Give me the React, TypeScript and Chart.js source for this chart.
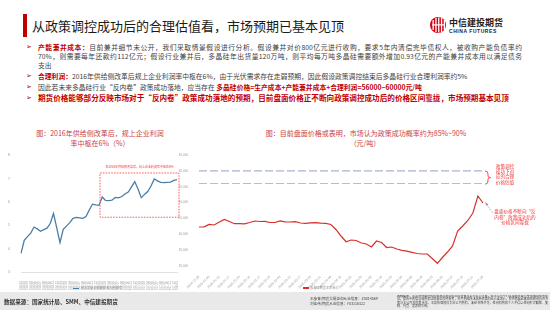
import React, { useEffect, useRef } from 'react';
import { Chart, registerables } from 'chart.js';

Chart.register(...registerables);

// ---------- Left chart data ----------
const PROFIT_LABELS = [
  '2014-01', '2014-02', '2014-03', '2014-04', '2014-05', '2014-06', '2014-07', '2014-08', '2014-09', '2014-10', '2014-11', '2014-12',
  '2015-01', '2015-02', '2015-03', '2015-04', '2015-05', '2015-06', '2015-07', '2015-08', '2015-09', '2015-10', '2015-11', '2015-12',
  '2016-01', '2016-02', '2016-03', '2016-04', '2016-05', '2016-06', '2016-07', '2016-08', '2016-09', '2016-10', '2016-11', '2016-12',
  '2017-01', '2017-02', '2017-03', '2017-04', '2017-05', '2017-06', '2017-07', '2017-08', '2017-09', '2017-10', '2017-11', '2017-12',
  '2018-01',
];
const PROFIT_MARGIN = [
  3.80, 4.36, 4.52, 4.67, 4.93, 4.85, 4.75, 4.82, 4.88, 5.08, 5.51, 4.89,
  4.26, 4.83, 4.97, 5.12, 5.30, 5.34, 5.32, 5.30, 5.38, 5.66, 5.91, 5.88,
  5.86, 6.22, 6.07, 6.06, 6.08, 6.20, 6.18, 6.24, 6.35, 6.43, 6.65, 6.88,
  6.56, 6.19, 6.33, 6.45, 6.69, 6.99, 6.91, 6.85, 6.84, 6.85, 6.86, 6.93,
  6.96,
];
const PROFIT_MIN = 3;
const PROFIT_MAX = 8;
const PROFIT_STEP = 1;
// dashed highlight box, in data units (category index / %)
const PROFIT_BOX_FROM = 24;
const PROFIT_BOX_TO = 48;
const PROFIT_BOX_TOP = 7.25;
const PROFIT_BOX_BOTTOM = 5.35;
const PROFIT_BOX_LABEL = '在2016年供给侧改革后，规上企业利润率中枢在6%';
const PROFIT_LEGEND = '规上工业企业营业收入利润率';

// ---------- Right chart data ----------
const PRICE_LABELS = [
  '2024-12-26', '2024-12-31', '2025-01-03', '2025-01-08', '2025-01-10', '2025-01-15', '2025-01-17', '2025-01-22',
  '2025-01-24', '2025-02-06', '2025-02-10', '2025-02-13', '2025-02-17', '2025-02-20', '2025-02-24', '2025-02-27',
  '2025-03-03', '2025-03-06', '2025-03-10', '2025-03-13', '2025-03-17', '2025-03-20', '2025-03-24', '2025-03-27',
  '2025-03-31', '2025-04-03', '2025-04-08', '2025-04-11', '2025-04-15', '2025-04-18', '2025-04-22', '2025-04-25',
  '2025-04-29', '2025-05-07', '2025-05-09', '2025-05-14', '2025-05-16', '2025-05-21', '2025-05-23', '2025-05-28',
  '2025-05-30', '2025-06-05', '2025-06-09', '2025-06-12', '2025-06-16', '2025-06-19', '2025-06-23', '2025-06-26',
  '2025-06-30', '2025-07-03', '2025-07-07', '2025-07-10', '2025-07-14', '2025-07-17', '2025-07-21', '2025-07-24',
  '2025-07-28',
];
const PRICE_VALUES = [
  42300, 42360, 43090, 42930, 43870, 44660, 44030, 43340,
  43340, 43300, 43720, 44190, 44030, 44090, 43720, 43720,
  44250, 43940, 43870, 43970, 43560, 43460, 43620, 43650,
  43500, 43460, 43090, 41510, 39460, 37660, 38200, 38040,
  37250, 36940, 35990, 37880, 37410, 35830, 35990, 35360,
  34950, 34670, 34320, 33940, 33780, 33780, 32360, 30850,
  32680, 34410, 36310, 41040, 42610, 44350, 46710, 52070,
  49860,
];
const PRICE_MIN = 30000;
const PRICE_MAX = 65000;
const PRICE_STEP = 5000;
const PRICE_BOUNDS = [60000, 56000];
const BOUND_COLORS = ['#a9b5ca', '#7cdad3'];
const PRICE_LEGEND = '多晶硅期货主力合约';

const CJK = '"Noto Sans CJK SC", "Noto Sans", sans-serif';
const TICK_FONT = '"Liberation Sans", "DejaVu Sans", sans-serif';
const RED = '#c00000';
const TITLE_RED = '#c9413f';

const profitBoxPlugin = {
  id: 'profitBox',
  afterDatasetsDraw(chart: any) {
    const { ctx, scales } = chart;
    const x0 = scales.x.getPixelForValue(PROFIT_BOX_FROM) + 1;
    const x1 = scales.x.getPixelForValue(PROFIT_BOX_TO) + 2;
    const y0 = scales.y.getPixelForValue(PROFIT_BOX_TOP);
    const y1 = scales.y.getPixelForValue(PROFIT_BOX_BOTTOM);
    ctx.save();
    ctx.setLineDash([1.6, 1.2]);
    ctx.strokeStyle = '#ff5b5b';
    ctx.lineWidth = 1;
    ctx.strokeRect(x0, y0, x1 - x0, y1 - y0);
    ctx.setLineDash([]);
    ctx.fillStyle = '#f03a3a';
    ctx.font = `3px ${CJK}`;
    ctx.textAlign = 'center';
    ctx.textBaseline = 'middle';
    ctx.fillText(PROFIT_BOX_LABEL, (x0 + x1) / 2, y0 - 6);
    ctx.restore();
  },
};

const boundsPlugin = {
  id: 'bounds',
  beforeDatasetsDraw(chart: any) {
    const { ctx, scales, chartArea } = chart;
    ctx.save();
    ctx.lineWidth = 1.1;
    ctx.setLineDash([8, 3]);
    PRICE_BOUNDS.forEach((v, i) => {
      const y = scales.y.getPixelForValue(v);
      ctx.strokeStyle = BOUND_COLORS[i];
      ctx.beginPath();
      ctx.moveTo(chartArea.left, y);
      ctx.lineTo(chartArea.right, y);
      ctx.stroke();
    });
    ctx.restore();
  },
};

function ProfitChart() {
  const ref = useRef<HTMLCanvasElement>(null);
  useEffect(() => {
    const chart = new Chart(ref.current!, {
      type: 'line',
      data: {
        labels: PROFIT_LABELS,
        datasets: [{
          data: PROFIT_MARGIN,
          borderColor: '#4a7ea6',
          borderWidth: 1.3,
          pointRadius: 0,
          tension: 0,
          fill: false,
        }],
      },
      options: {
        animation: false,
        responsive: false,
        maintainAspectRatio: false,
        layout: { padding: { top: 5.5, right: 9, left: 0, bottom: 0 } },
        plugins: { legend: { display: false }, tooltip: { enabled: false } },
        scales: {
          x: {
            offset: false,
            grid: { display: false },
            border: { display: true, color: '#d9d9d9', width: 0.8 },
            ticks: {
              autoSkip: false, minRotation: 90, maxRotation: 90,
              font: { size: 3, family: TICK_FONT }, color: '#9a9a9a', padding: 1,
            },
            afterFit: (s: any) => { s.height = 18; },
          },
          y: {
            min: PROFIT_MIN, max: PROFIT_MAX,
            grid: { display: false },
            border: { display: false },
            ticks: { stepSize: PROFIT_STEP, font: { size: 3.5, family: TICK_FONT }, color: '#9a9a9a', padding: 3 },
            afterFit: (s: any) => { s.width = 13; },
          },
        },
      },
      plugins: [profitBoxPlugin],
    } as any);
    return () => chart.destroy();
  }, []);
  return <canvas ref={ref} width={178} height={140} style={{ position: 'absolute', left: 8, top: 150, width: 178, height: 140 }} />;
}

function PriceChart() {
  const ref = useRef<HTMLCanvasElement>(null);
  useEffect(() => {
    const chart = new Chart(ref.current!, {
      type: 'line',
      data: {
        labels: PRICE_LABELS,
        datasets: [{
          data: PRICE_VALUES,
          borderColor: '#d9302c',
          borderWidth: 1.2,
          pointRadius: 0,
          tension: 0,
          fill: false,
        }],
      },
      options: {
        animation: false,
        responsive: false,
        maintainAspectRatio: false,
        layout: { padding: { top: 5, right: 7, left: 0, bottom: 0 } },
        plugins: { legend: { display: false }, tooltip: { enabled: false } },
        scales: {
          x: {
            offset: false,
            grid: { display: false },
            border: { display: false },
            ticks: {
              autoSkip: false, minRotation: 45, maxRotation: 45,
              font: { size: 3.2, family: TICK_FONT }, color: '#9a9a9a', padding: 1,
              callback: (_v: any, i: number) => (i % 2 === 0 ? PRICE_LABELS[i] : ''),
            },
            afterFit: (s: any) => { s.height = 24; },
          },
          y: {
            min: PRICE_MIN, max: PRICE_MAX,
            grid: { display: false },
            border: { display: false },
            ticks: { stepSize: PRICE_STEP, font: { size: 3, family: TICK_FONT }, color: '#9a9a9a', padding: 3 },
            afterFit: (s: any) => { s.width = 21; },
          },
        },
      },
      plugins: [boundsPlugin],
    } as any);
    return () => chart.destroy();
  }, []);
  return <canvas ref={ref} width={312} height={140} style={{ position: 'absolute', left: 178, top: 150, width: 312, height: 140 }} />;
}

type TProps = {
  x: number; y: number; s: number; c?: string; b?: boolean; w?: number;
  center?: boolean; justify?: boolean; children?: React.ReactNode; style?: React.CSSProperties;
};
function T({ x, y, s, c = '#404040', b, w, center, justify, children, style }: TProps) {
  const lh = s * 1.25;
  const st: React.CSSProperties = {
    position: 'absolute', top: y - lh / 2, fontSize: s, lineHeight: `${lh}px`, color: c,
    fontWeight: b ? 700 : 400, whiteSpace: 'nowrap', fontFamily: CJK,
  };
  if (center) {
    const width = w ?? 300;
    st.left = x - width / 2; st.width = width; st.textAlign = 'center';
  } else {
    st.left = x;
    if (w) st.width = w;
  }
  if (justify) { st.textAlign = 'justify'; (st as any).textAlignLast = 'justify'; }
  return <div style={{ ...st, ...style }}>{children}</div>;
}

const R = ({ children }: { children: React.ReactNode }) => (
  <span style={{ color: RED, fontWeight: 700 }}>{children}</span>
);

const BODY = 6.8;

export default function App() {
  useEffect(() => { document.body.style.margin = '0'; }, []);
  const bullet = (y: number) => (
    <div style={{ position: 'absolute', left: 26, top: y - 4.5, fontSize: 7, lineHeight: '9px', color: RED, fontFamily: '"DejaVu Sans", sans-serif' }}>➢</div>
  );
  return (
    <div style={{ position: 'absolute', left: 0, top: 0, width: 550, height: 310, background: '#fff', overflow: 'hidden', fontFamily: CJK }}>
      {/* header */}
      <div style={{ position: 'absolute', left: 23, top: 14, width: 4, height: 23, background: RED }} />
      <T x={32} y={26} s={13} c="#1a1a1a">从政策调控成功后的合理估值看，市场预期已基本见顶</T>
      <svg style={{ position: 'absolute', left: 0, top: 0 }} width={550} height={310}>
        <circle cx={438} cy={25} r={8} fill="#d7000f" />
        <rect x={432.5} y={20} width={1.3} height={10} fill="#fff" />
        <rect x={435.3} y={18} width={1.3} height={14} fill="#fff" />
        <rect x={438.1} y={17.5} width={1.3} height={15} fill="#fff" />
        <rect x={440.9} y={18} width={1.3} height={14} fill="#fff" />
        <rect x={443.7} y={20} width={1.3} height={10} fill="#fff" />
        <rect x={432} y={24.3} width={12} height={1.2} fill="#fff" />
        {/* bracket */}
        <path d="M485,171 Q488,171 488,174 L488,176 Q488,177.6 490.5,177.6 Q488,177.6 488,179.2 L488,181 Q488,184.2 485,184.2" fill="none" stroke="#ff3b3b" strokeWidth={0.9} />
        {/* arrow */}
        <line x1={493} y1={213} x2={487} y2={205} stroke="#9a9a9a" strokeWidth={0.7} strokeDasharray="1.2,0.8" />
        <polygon points="485,202.3 488.4,204.4 486.6,205.8" fill="#8a8a8a" />
        {/* footer separator */}
        <line x1={394.5} y1={294} x2={394.5} y2={308} stroke="#8c8c8c" strokeWidth={0.6} />
      </svg>
      <T x={449} y={22.5} s={9} c="#222" b style={{ letterSpacing: 0 }}>中信建投期货</T>
      <div style={{ position: 'absolute', left: 449, top: 28, fontSize: 5, lineHeight: '6px', fontWeight: 700, color: '#222', fontFamily: '"Liberation Sans", sans-serif', letterSpacing: 0.55 }}>CHINA FUTURES</div>

      {/* bullets */}
      {bullet(47)}
      <T x={38} y={47} s={BODY} w={484} justify><R>产能兼并成本：</R>目前兼并细节未公开，我们采取情景假设进行分析。假设兼并对价800亿元进行收购，要求5年内清偿完毕债权人，被收购产能负债率约</T>
      <T x={38} y={56.5} s={BODY} w={484} justify>70%，则需要每年还款约112亿元；假设行业兼并后，多晶硅年出货量120万吨，则平均每万吨多晶硅需要额外增加0.93亿元的产能兼并成本用以满足债务</T>
      <T x={38} y={65.5} s={BODY}>支出</T>
      {bullet(76)}
      <T x={38} y={76} s={BODY}><R>合理利润：</R>2016年供给侧改革后规上企业利润率中枢在6%，由于光伏需求存在走弱预期，因此假设政策调控结束后多晶硅行业合理利润率约5%</T>
      {bullet(87)}
      <T x={38} y={87} s={BODY}>因此若未来多晶硅行业“反内卷”政策成功落地，应当存在 <span style={{ color: RED, fontWeight: 700 }}>多晶硅价格=生产成本+产能兼并成本+合理利润=56000~60000元/吨</span></T>
      {bullet(98)}
      <T x={38} y={98} s={7.6} c={RED} b>期货价格能够部分反映市场对于“反内卷”政策成功落地的预期，目前盘面价格正不断向政策调控成功后的价格区间靠拢，市场预期基本见顶</T>

      {/* chart titles */}
      <T x={100} y={133} s={7} c={TITLE_RED} center w={200}>图：2016年供给侧改革后，规上企业利润</T>
      <T x={100} y={143} s={7} c={TITLE_RED} center w={200}>率中枢在6%（%）</T>
      <T x={366} y={133} s={7} c={TITLE_RED} center w={260}>图：目前盘面价格或表明，市场认为政策成功概率约为85%~90%</T>
      <T x={365} y={143} s={7} c={TITLE_RED} center w={100}>（元/吨）</T>

      <ProfitChart />
      <PriceChart />

      {/* annotations right */}
      <T x={505} y={166.5} s={4.6} c="#f03030" center w={40}>政策调控</T>
      <T x={505} y={171.8} s={4.6} c="#f03030" center w={40}>成功下对</T>
      <T x={505} y={177.1} s={4.6} c="#f03030" center w={40}>应的合理</T>
      <T x={505} y={182.4} s={4.6} c="#f03030" center w={40}>价格估值</T>
      <T x={515} y={212} s={4.6} c="#f03030" center w={60}>盘面价格不断向“反</T>
      <T x={515} y={217.5} s={4.6} c="#f03030" center w={60}>内卷”政策成功后的</T>
      <T x={515} y={223} s={4.6} c="#f03030" center w={60}>价格区间靠拢</T>

      {/* legends */}
      <div style={{ position: 'absolute', left: 73, top: 287.5, width: 6, height: 1.3, background: '#4a7ea6' }} />
      <T x={80.5} y={288} s={3.2} c="#8a8a8a">{PROFIT_LEGEND}</T>
      <div style={{ position: 'absolute', left: 302.5, top: 287.3, width: 6, height: 2, background: '#d9302c' }} />
      <T x={310} y={288} s={3.2} c="#8a8a8a">{PRICE_LEGEND}</T>

      {/* footer */}
      <div style={{ position: 'absolute', left: 0, top: 292, width: 550, height: 18, background: '#e9e9e9' }} />
      <T x={4} y={302.5} s={5.6} c="#333" b>数据来源：国家统计局、SMM、中信建投期货</T>
      <T x={310} y={299.5} s={3.6} c="#444">王彦青(期货交易咨询从业信息：Z0014569</T>
      <T x={310} y={304.5} s={3.6} c="#444">刘佳伟(期货从业信息：F03116322</T>
      <div style={{ position: 'absolute', left: 397, top: 294.5, width: 151, height: 14, overflow: 'hidden', fontSize: 3, lineHeight: '3.5px', color: '#444', fontFamily: CJK, textAlign: 'justify', wordBreak: 'break-all' }}>
        <b>风险提示：</b>本报告所载资料的来源及观点的出处皆被本公司认为可靠，但本公司不对其准确性或完整性做出任何保证。报告中的信息或所表达的意见仅供参考，并不构成所述品种买卖的出价或询价，投资者据此做出的任何投资决策与本公司和作者无关。本报告版权仅为本公司所有，未经书面许可，任何机构和个人不得以任何形式翻版、复制、刊登、发表和引用。
      </div>
    </div>
  );
}
